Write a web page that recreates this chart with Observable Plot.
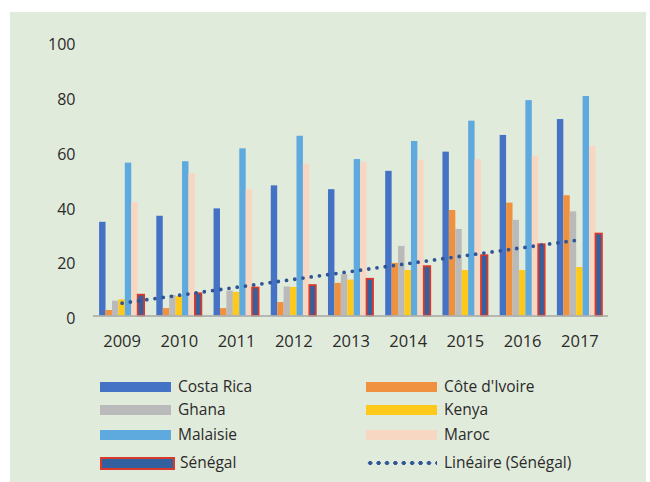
<!DOCTYPE html>
<html>
<head>
<meta charset="utf-8">
<script src="https://cdn.jsdelivr.net/npm/d3@7"></script>
<script src="https://cdn.jsdelivr.net/npm/@observablehq/plot@0.6"></script>
<style>
  html, body { margin: 0; padding: 0; background: #ffffff; }
  #panel {
    position: absolute; left: 10px; top: 12px; width: 636px; height: 470px;
    background: #e1ebdb; font-family: "Open Sans", sans-serif; color: #2a2a2a;
  }
  #legend {
    position: absolute; left: 90px; top: 0; width: 520px;
  }
  .item { position: absolute; display: flex; align-items: center; font-size: 15.5px; line-height: 1; white-space: nowrap; }
  .sw { width: 71px; height: 10px; margin-right: 7px; }
  .sw.sen { width: 71px; height: 9px; background: #33609e; outline: 2px solid #d9392b; margin-left: 2px; margin-right: 7px; }
  .sw.dot { height: 4px; background-image: radial-gradient(circle, #2f5597 1.9px, transparent 2.1px); background-size: 8.4px 4px; background-repeat: repeat-x; }
</style>
</head>
<body>
<div id="panel"><div id="chart"></div><div id="legend"></div></div>
<script>
const years = [2009, 2010, 2011, 2012, 2013, 2014, 2015, 2016, 2017];
const seriesNames = ["Costa Rica", "Côte d'Ivoire", "Ghana", "Kenya", "Malaisie", "Maroc", "Sénégal"];
const costaRica  = [34.2, 36.4, 39.1, 47.5, 46.1, 52.8, 59.8, 65.9, 71.7];
const coteIvoire = [2.0, 2.7, 2.7, 4.9, 11.9, 19.2, 38.5, 41.2, 43.9];
const ghana      = [5.4, 7.5, 9.1, 10.6, 15.1, 25.4, 31.6, 34.9, 38.0];
const kenya      = [5.9, 7.1, 8.6, 10.4, 13.1, 16.6, 16.6, 16.6, 17.7];
const malaisie   = [55.8, 56.3, 61.0, 65.6, 57.1, 63.7, 71.1, 78.6, 80.1];
const maroc      = [41.4, 51.9, 46.1, 55.3, 56.1, 56.9, 57.1, 58.3, 61.9];
const senegal    = [7.6, 8.1, 10.2, 11.1, 13.4, 18.0, 22.0, 26.0, 29.9];
const yTicks = [0, 20, 40, 60, 80, 100];
const trendLabel = "Linéaire (Sénégal)";

const colors = ["#4472c4", "#f0913f", "#bababa", "#ffc91c", "#5ea9dd", "#f8d7c2", "#33609e"];
const seriesValues = [costaRica, coteIvoire, ghana, kenya, malaisie, maroc, senegal];

const slot = 0.1124;
const groupHalf = slot * seriesNames.length / 2;
const rows = seriesNames.flatMap((name, si) => years.map((year, yi) => ({
  name, si, year, value: seriesValues[si][yi]
})));
const main = rows.filter(d => d.name !== "Sénégal");
const sen = rows.filter(d => d.name === "Sénégal");

// least-squares trend of Sénégal
const mx = d3.mean(years), my = d3.mean(senegal);
const slope = d3.sum(years, (x, i) => (x - mx) * (senegal[i] - my)) / d3.sum(years, x => (x - mx) ** 2);
const trend = [years[0], years[years.length - 1]].map(x => ({year: x, value: my + slope * (x - mx)}));

const x1 = d => d.year - groupHalf + d.si * slot;
const x2 = d => d.year - groupHalf + (d.si + 1) * slot;

const chart = Plot.plot({
  width: 636, height: 345,
  marginTop: 29.5, marginBottom: 41.5, marginLeft: 83, marginRight: 38,
  style: {fontFamily: "Open Sans, sans-serif", fontSize: "16px", background: "transparent", color: "#2a2a2a"},
  x: {domain: [2008.5, 2017.5]},
  y: {domain: [0, 100]},
  color: {domain: seriesNames, range: colors},
  marks: [
    Plot.rectY(main, {x1, x2, y: "value", fill: "name"}),
    Plot.rectY(sen, {x1, x2, y: "value", fill: "name", stroke: "#d9392b", strokeWidth: 1.8}),
    Plot.ruleY([0], {stroke: "#a6a6a6", strokeWidth: 1.5}),
    Plot.line(trend, {x: "year", y: "value", stroke: "#2f5597", strokeWidth: 3.8, strokeDasharray: "0 8.3", strokeLinecap: "round"}),
    Plot.axisX(years, {tickSize: 0, tickPadding: 19, tickFormat: d => String(d), fontSize: 16.5, label: null}),
    Plot.axisY(yTicks, {tickSize: 0, tickPadding: 8, dx: -10, dy: 3, fontSize: 16, label: null})
  ]
});
document.getElementById("chart").appendChild(chart);

// legend
const legend = document.getElementById("legend");
const legendItems = seriesNames.map((n, i) => ({label: n, color: colors[i], kind: n === "Sénégal" ? "sen" : "bar"}));
legendItems.push({label: trendLabel, kind: "dot"});
const rowTops = [375, 398, 423, 451];
legendItems.forEach((it, i) => {
  const r = Math.floor(i / 2), c = i % 2;
  const el = document.createElement("div");
  el.className = "item";
  el.style.left = (c === 0 ? 0 : 266) + "px";
  el.style.top = (rowTops[r] - 12) + "px";
  el.style.height = "24px";
  const sw = document.createElement("div");
  sw.className = "sw" + (it.kind === "sen" ? " sen" : it.kind === "dot" ? " dot" : "");
  if (it.kind === "bar") sw.style.background = it.color;
  const tx = document.createElement("span");
  tx.textContent = it.label;
  el.appendChild(sw); el.appendChild(tx);
  legend.appendChild(el);
});
</script>
</body>
</html>
